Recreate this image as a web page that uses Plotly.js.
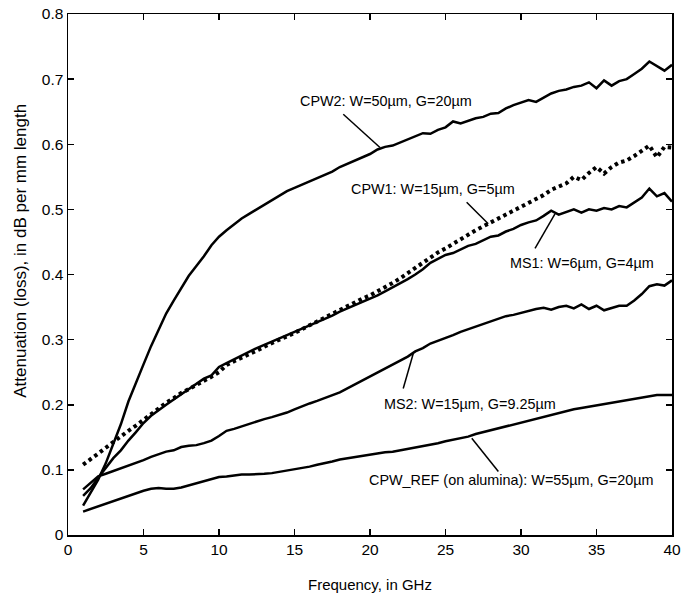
<!DOCTYPE html>
<html>
<head>
<meta charset="utf-8">
<script src="https://cdn.plot.ly/plotly-3.0.1.min.js"></script>
<style>html,body{margin:0;padding:0;background:#fff;}#chart{width:700px;height:597px;}</style>
</head>
<body>
<div id="chart"></div>
<script>
var freq = [1,1.5,2,2.5,3,3.5,4,4.5,5,5.5,6,6.5,7,7.5,8,8.5,9,9.5,10,10.5,11,11.5,12,12.5,13,13.5,14,14.5,15,15.5,16,16.5,17,17.5,18,18.5,19,19.5,20,20.5,21,21.5,22,22.5,23,23.5,24,24.5,25,25.5,26,26.5,27,27.5,28,28.5,29,29.5,30,30.5,31,31.5,32,32.5,33,33.5,34,34.5,35,35.5,36,36.5,37,37.5,38,38.5,39,39.5,40];

var cpw2 = [0.045,0.065,0.085,0.110,0.140,0.170,0.205,0.235,0.262,0.290,
            0.316,0.340,0.360,0.380,0.398,0.413,0.428,0.445,0.458,0.468,
            0.477,0.486,0.493,0.500,0.507,0.513,0.520,0.528,0.533,0.538,
            0.542,0.548,0.553,0.558,0.565,0.570,0.574,0.580,0.585,0.592,
            0.596,0.598,0.603,0.608,0.612,0.617,0.616,0.622,0.626,0.635,
            0.632,0.636,0.640,0.642,0.647,0.648,0.655,0.660,0.664,0.668,
            0.665,0.672,0.678,0.682,0.684,0.688,0.690,0.695,0.686,0.698,
            0.690,0.697,0.700,0.708,0.716,0.727,0.720,0.713,0.722];

var cpw1 = [0.108,0.116,0.125,0.134,0.143,0.152,0.160,0.168,0.177,0.186,
            0.195,0.203,0.210,0.218,0.224,0.230,0.236,0.243,0.250,0.261,
            0.267,0.272,0.278,0.283,0.289,0.295,0.300,0.305,0.310,0.316,
            0.322,0.328,0.334,0.340,0.346,0.352,0.357,0.363,0.368,0.374,
            0.381,0.387,0.394,0.402,0.410,0.418,0.427,0.434,0.440,0.447,
            0.455,0.462,0.468,0.474,0.480,0.487,0.492,0.498,0.504,0.510,
            0.516,0.522,0.530,0.535,0.540,0.550,0.545,0.556,0.565,0.555,
            0.565,0.572,0.575,0.582,0.590,0.598,0.580,0.596,0.595];

var ms1 = [0.060,0.072,0.088,0.103,0.118,0.130,0.145,0.158,0.172,0.183,
           0.192,0.200,0.208,0.216,0.224,0.232,0.240,0.245,0.258,0.264,
           0.270,0.276,0.281,0.287,0.292,0.297,0.302,0.307,0.311,0.316,
           0.321,0.327,0.332,0.337,0.343,0.348,0.352,0.358,0.362,0.368,
           0.374,0.380,0.386,0.393,0.400,0.408,0.418,0.424,0.430,0.433,
           0.438,0.444,0.447,0.452,0.458,0.460,0.466,0.470,0.476,0.480,
           0.483,0.490,0.498,0.492,0.496,0.500,0.495,0.500,0.498,0.502,
           0.500,0.505,0.503,0.510,0.518,0.532,0.520,0.525,0.512];

var ms2 = [0.070,0.080,0.090,0.094,0.098,0.103,0.107,0.111,0.115,0.120,
           0.124,0.128,0.130,0.135,0.137,0.138,0.141,0.145,0.152,0.160,
           0.163,0.167,0.170,0.174,0.178,0.181,0.184,0.188,0.193,0.198,
           0.202,0.206,0.210,0.215,0.219,0.225,0.231,0.237,0.243,0.250,
           0.256,0.262,0.268,0.274,0.282,0.287,0.294,0.298,0.302,0.307,
           0.312,0.316,0.320,0.325,0.329,0.332,0.336,0.338,0.341,0.345,
           0.347,0.349,0.346,0.350,0.352,0.348,0.354,0.347,0.352,0.345,
           0.349,0.352,0.352,0.360,0.370,0.382,0.385,0.383,0.391];

var cpwRef = [0.036,0.040,0.044,0.048,0.052,0.057,0.061,0.065,0.068,0.071,
              0.072,0.071,0.071,0.073,0.076,0.079,0.083,0.086,0.089,0.090,
              0.092,0.093,0.093,0.093,0.094,0.095,0.097,0.099,0.100,0.103,
              0.105,0.108,0.110,0.113,0.116,0.118,0.120,0.122,0.124,0.125,
              0.127,0.128,0.130,0.132,0.134,0.137,0.139,0.141,0.144,0.146,
              0.149,0.151,0.155,0.158,0.161,0.164,0.167,0.170,0.173,0.176,
              0.178,0.181,0.184,0.187,0.190,0.193,0.195,0.197,0.199,0.201,
              0.203,0.205,0.207,0.209,0.211,0.213,0.215,0.215,0.215];

var xTicks = [0,5,10,15,20,25,30,35,40];
var yTicks = [0,0.1,0.2,0.3,0.4,0.5,0.6,0.7,0.8];
var yTickText = ['0','0.1','0.2','0.3','0.4','0.5','0.6','0.7','0.8'];

var labels = [
  {text:'CPW2: W=50\u00b5m, G=20\u00b5m', tx:21.06, ty:0.666, p0:[18.23,0.646], p1:[20.66,0.595]},
  {text:'CPW1: W=15\u00b5m, G=5\u00b5m', tx:24.17, ty:0.531, p0:[26.4,0.511], p1:[27.83,0.478]},
  {text:'MS1: W=6\u00b5m, G=4\u00b5m', tx:34.02, ty:0.417, p0:[30.93,0.440], p1:[32.25,0.493]},
  {text:'MS2: W=15\u00b5m, G=9.25\u00b5m', tx:26.59, ty:0.201, p0:[22.2,0.225], p1:[22.87,0.279]},
  {text:'CPW_REF (on alumina): W=55\u00b5m, G=20\u00b5m', tx:29.4, ty:0.085, p0:[28.5,0.0975], p1:[26.74,0.1487]}
];

var FONT = 'Liberation Sans, Arial, Helvetica, sans-serif';

function solid(y){ return {x:freq, y:y, type:'scatter', mode:'lines', line:{color:'#000', width:2.5}, hoverinfo:'skip'}; }
var traces = [
  solid(cpwRef),
  solid(ms2),
  solid(ms1),
  {x:freq, y:cpw1, type:'scatter', mode:'lines', line:{color:'#000', width:4, dash:'3.5px,3.5px'}, hoverinfo:'skip'},
  solid(cpw2)
];

var annotations = labels.map(function(l){
  return {x:l.tx, y:l.ty, xref:'x', yref:'y', text:l.text, showarrow:false,
          font:{family:FONT, size:14.4, color:'#000'}, xanchor:'center', yanchor:'middle'};
});
annotations.push({x:-0.08, y:0.545, xref:'paper', yref:'paper', text:'Attenuation (loss), in dB per mm length',
  textangle:-90, showarrow:false, font:{family:FONT, size:17, color:'#000'}, xanchor:'center', yanchor:'middle'});
annotations.push({x:0.5, y:-0.095, xref:'paper', yref:'paper', text:'Frequency, in GHz',
  showarrow:false, font:{family:FONT, size:15, color:'#000'}, xanchor:'center', yanchor:'middle'});

var shapes = labels.map(function(l){
  return {type:'line', xref:'x', yref:'y', x0:l.p0[0], y0:l.p0[1], x1:l.p1[0], y1:l.p1[1], line:{color:'#000', width:1.5}};
});

var axisCommon = {showgrid:false, zeroline:false, showline:true, linecolor:'#000', linewidth:1.5,
  mirror:'ticks', ticks:'inside', ticklen:6, tickwidth:1.5, tickcolor:'#000',
  tickfont:{family:FONT, size:15.5, color:'#000'}};

var layout = {
  width:700, height:597,
  margin:{l:68, r:28, t:14, b:62},
  paper_bgcolor:'#fff', plot_bgcolor:'#fff',
  showlegend:false,
  xaxis:Object.assign({}, axisCommon, {range:[0,40], tickmode:'array', tickvals:xTicks, ticktext:xTicks.map(String)}),
  yaxis:Object.assign({}, axisCommon, {range:[0,0.8], tickmode:'array', tickvals:yTicks, ticktext:yTickText}),
  annotations:annotations,
  shapes:shapes
};

Plotly.newPlot('chart', traces, layout, {displayModeBar:false, staticPlot:true});
</script>
</body>
</html>
